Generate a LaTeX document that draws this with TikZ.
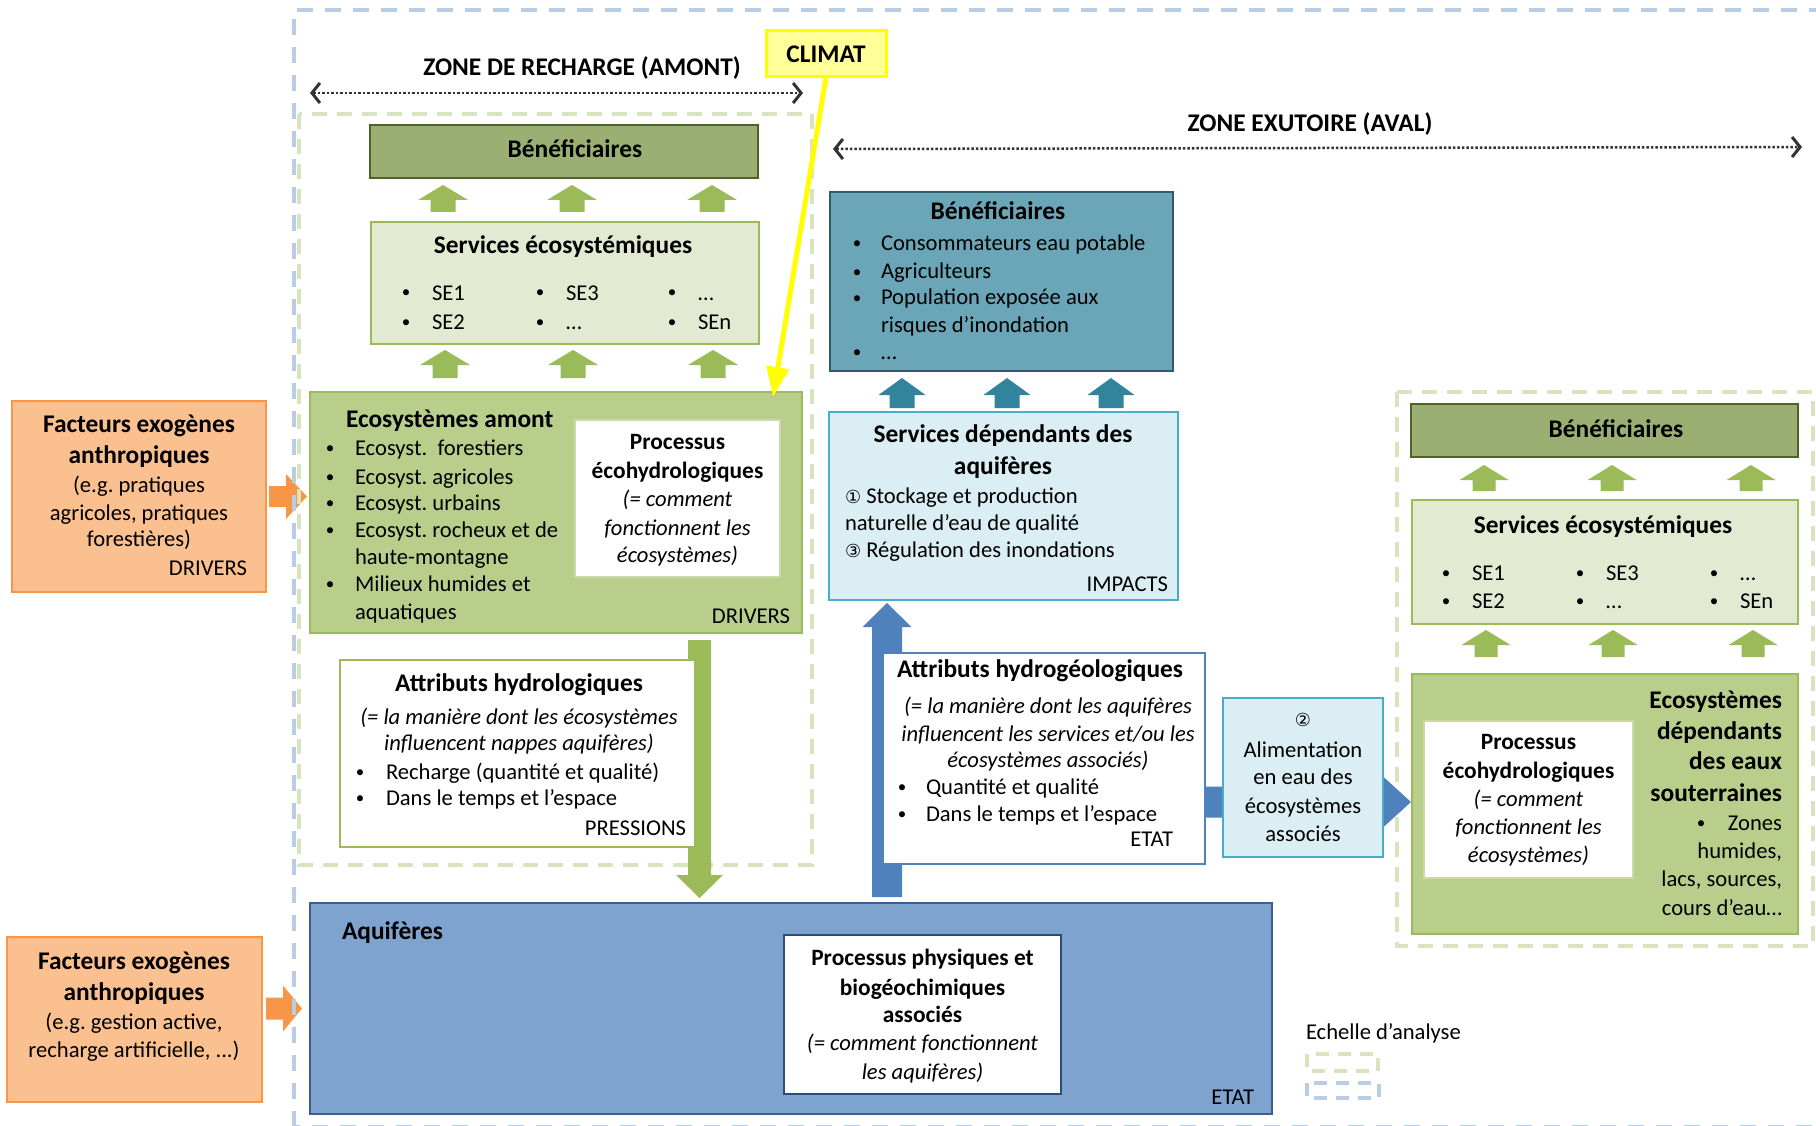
\documentclass[tikz,border=0pt]{standalone}
\usepackage{fontspec}
\setmainfont{Carlito}
\newfontfamily\symf{DejaVu Sans}
\usetikzlibrary{arrows.meta,calc}
\definecolor{cBenG}{HTML}{9CAF72}
\definecolor{cBenGd}{HTML}{4F6228}
\definecolor{cServ}{HTML}{E2EAD2}
\definecolor{cGreen}{HTML}{9BBB59}
\definecolor{cEco}{HTML}{BACE8C}
\definecolor{cEcoL}{HTML}{C9DAA6}
\definecolor{cTeal}{HTML}{6AA6B7}
\definecolor{cTealD}{HTML}{2D5D6C}
\definecolor{cTealA}{HTML}{31849B}
\definecolor{cLB}{HTML}{DBEEF3}
\definecolor{cLBd}{HTML}{4BACC6}
\definecolor{cBlue}{HTML}{4F81BD}
\definecolor{cAq}{HTML}{7FA3CF}
\definecolor{cAqD}{HTML}{3A5F8E}
\definecolor{cNavy}{HTML}{2C4D75}
\definecolor{cOr}{HTML}{F79646}
\definecolor{cOrL}{HTML}{FAC090}
\definecolor{cYel}{HTML}{FFFF00}
\definecolor{cYelL}{HTML}{FFFF99}
\definecolor{cDashB}{HTML}{B9CDE5}
\definecolor{cDashG}{HTML}{D7E4BD}
\definecolor{cDot}{HTML}{333333}

\pgfdeclarelayer{bg}
\pgfsetlayers{bg,main}

\tikzset{
  rg/.style={font=\fontsize{22.6}{27}\selectfont},
  it/.style={font=\fontsize{22.6}{27}\selectfont\itshape},
  bd/.style={font=\fontsize{25.4}{30}\selectfont\bfseries},
  bs/.style={font=\fontsize{23.4}{28}\selectfont\bfseries},
  bl/.style={font=\fontsize{17}{20}\selectfont},
  txt/.style={inner sep=0pt, outer sep=0pt, text=black},
  boxst/.style={rectangle, inner sep=0pt, outer sep=0pt, anchor=north west, line width=2.5pt},
  benG/.style={boxst, fill=cBenG, draw=cBenGd},
  servG/.style={boxst, fill=cServ, draw=cGreen},
  ecoG/.style={boxst, fill=cEco, draw=cGreen},
  procW/.style={boxst, fill=white, draw=cEcoL, line width=2pt},
  bluedash/.style={draw=cDashB, line width=3.5pt, dash pattern=on 16pt off 12pt},
  greendash/.style={draw=cDashG, line width=4pt, dash pattern=on 15pt off 10pt},
  dotarr/.style={draw=cDot, line width=2.5pt, dash pattern=on 2.5pt off 2pt,
     {Straight Barb[length=8pt,width=20pt,line width=3pt]}-{Straight Barb[length=8pt,width=20pt,line width=3pt]}},
}

\newcounter{tn}
\newcommand\TL[4][rg]{\stepcounter{tn}\node[#1,txt,anchor=base west] (t\arabic{tn}) at (#2,#3+7) {#4};}
\newcommand\TC[4][rg]{\stepcounter{tn}\node[#1,txt,anchor=base] (t\arabic{tn}) at (#2,#3+7) {#4};}
\newcommand\TR[4][rg]{\stepcounter{tn}\node[#1,txt,anchor=base east] (t\arabic{tn}) at (#2,#3+7) {#4};}
\newcommand\BU[2]{\stepcounter{tn}\node[bl,txt,anchor=base] (t\arabic{tn}) at (#1,#2+5) {•};}
\newcommand\bx[6]{\node[#2,minimum width={#5-#3},minimum height={#6-#4}] (#1) at (#3,#4) {};}
% vertical block arrow: colour, tail, tip, shaft half width, head half width, head length
\newcommand\varrow[6]{\fill[#1] let \p1=#2, \p2=#3, \n1={sign(\y2-\y1)} in
  (\x1-#4pt,\y1) -- (\x1-#4pt,\y2-\n1*#6pt) -- (\x1-#5pt,\y2-\n1*#6pt) -- (\x1,\y2)
  -- (\x1+#5pt,\y2-\n1*#6pt) -- (\x1+#4pt,\y2-\n1*#6pt) -- (\x1+#4pt,\y1) -- cycle;}
\newcommand\harrow[6]{\fill[#1] let \p1=#2, \p2=#3, \n1={sign(\x2-\x1)} in
  (\x1,\y1-#4pt) -- (\x2-\n1*#6pt,\y1-#4pt) -- (\x2-\n1*#6pt,\y1-#5pt) -- (\x2,\y1)
  -- (\x2-\n1*#6pt,\y1+#5pt) -- (\x2-\n1*#6pt,\y1+#4pt) -- (\x1,\y1+#4pt) -- cycle;}
\newcommand\upar[9]{\varrow{#1}{($(#2.north west)+(#4,-#5)$)}{($(#2.north west |- #3.south)+(#4,#6)$)}{#7}{#8}{#9}}
\newcommand\bul[3]{\BU{#1}{#2}\TL{#1+26}{#2}{#3}}

\begin{document}
\frenchspacing
\begin{tikzpicture}[x=1pt,y=-1pt]
\useasboundingbox (0,0) rectangle (1816,1126);

% ---------------- boxes ----------------
\node[boxst, fill=cYelL, draw=cYel, line width=3pt, minimum width=120, minimum height=46, anchor=center, bd] (climat) at (826,54) {CLIMAT};
\bx{benL}{benG}{370}{125}{758}{178}
\bx{servL}{servG}{371}{222}{759}{344}
\bx{ecoA}{ecoG}{310}{392}{802}{633}
\bx{procL}{procW}{575}{420}{780}{577}
\bx{hydro}{boxst, fill=white, draw=cGreen}{340}{660}{695}{847}
\bx{benT}{boxst, fill=cTeal, draw=cTealD}{830}{192}{1173}{371}
\bx{servD}{boxst, fill=cLB, draw=cLBd}{829}{412}{1178}{600}
\bx{geo}{boxst, fill=white, draw=cBlue, line width=2pt}{883}{653}{1205}{864}
\bx{alim}{boxst, fill=cLB, draw=cLBd}{1223}{698}{1383}{857}
\bx{benR}{benG}{1411}{404}{1798}{457}
\bx{servR}{servG}{1412}{500}{1798}{624}
\bx{ecoD}{ecoG}{1412}{674}{1798}{934}
\bx{procR}{procW}{1424}{721}{1633}{878}
\bx{aquif}{boxst, fill=cAq, draw=cAqD}{310}{903}{1272}{1114}
\bx{procA}{boxst, fill=white, draw=cNavy, line width=2pt}{784}{935}{1061}{1094}
\bx{fact1}{boxst, fill=cOrL, draw=cOr}{12}{401}{266}{592}
\bx{fact2}{boxst, fill=cOrL, draw=cOr}{7}{937}{262}{1102}

% ---------------- background: zones and big arrows ----------------
\begin{pgfonlayer}{bg}
\harrow{cOr}{($(fact1.east)+(3,0)$)}{($(ecoA.west |- fact1.east)+(-3,0)$)}{10.5}{22.5}{21}
\harrow{cOr}{($(fact2.east |- aquif.west)+(4,0)$)}{($(aquif.west)+(-8,0)$)}{11}{23}{19}
\draw[bluedash] (294,1127) rectangle (1840,10);
\draw[greendash] (299,114) rectangle (812,865);
\draw[greendash] (1397,392) rectangle (1813,946);
\varrow{cGreen}{($(hydro.east |- ecoA.south)+(4.5,7)$)}{($(hydro.east |- aquif.north)+(4.5,-5)$)}{11.5}{23.5}{23}
\varrow{cBlue}{($(geo.west |- aquif.north)+(4,-6)$)}{($(geo.west |- servD.south)+(4,3)$)}{15}{24.5}{24}
\harrow{cBlue}{($(geo.east |- ecoD.west)+(-5,-2)$)}{($(ecoD.west)+(-1,-2)$)}{15.5}{25.5}{28}
\end{pgfonlayer}

% ---------------- small block arrows ----------------
\upar{cGreen}{servL}{benL}{72}{10}{7}{12.5}{25}{15}
\upar{cGreen}{servL}{benL}{201}{10}{7}{12.5}{25}{15}
\upar{cGreen}{servL}{benL}{341}{10}{7}{12.5}{25}{15}
\upar{cGreen}{ecoA}{servL}{135}{14}{6}{12.5}{25}{15}
\upar{cGreen}{ecoA}{servL}{263}{14}{6}{12.5}{25}{15}
\upar{cGreen}{ecoA}{servL}{403}{14}{6}{12.5}{25}{15}
\upar{cTealA}{servD}{benT}{73}{4}{7}{12.5}{23.5}{17}
\upar{cTealA}{servD}{benT}{178}{4}{7}{12.5}{23.5}{17}
\upar{cTealA}{servD}{benT}{282}{4}{7}{12.5}{23.5}{17}
\upar{cGreen}{servR}{benR}{72}{9}{8}{11.5}{24.5}{15}
\upar{cGreen}{servR}{benR}{200}{9}{8}{11.5}{24.5}{15}
\upar{cGreen}{servR}{benR}{339}{9}{8}{11.5}{24.5}{15}
\upar{cGreen}{ecoD}{servR}{74}{17}{6}{11.5}{24.5}{15}
\upar{cGreen}{ecoD}{servR}{201}{17}{6}{11.5}{24.5}{15}
\upar{cGreen}{ecoD}{servR}{341}{17}{6}{11.5}{24.5}{15}

% ---------------- zone arrows ----------------
\coordinate (zr1) at (310,93);
\coordinate (zr2) at (803,93);
\coordinate (zx1) at (833,149);
\coordinate (zx2) at (1802,147);
\draw[dotarr] (zr1) -- (zr2);
\draw[dotarr] (zx1) -- (zx2);
\TC[bd]{582}{69}{ZONE DE RECHARGE (AMONT)}
\TC[bd]{1310}{125}{ZONE EXUTOIRE (AVAL)}

% climat arrow
\draw[cYel, line width=5pt, -{Triangle[length=30pt,width=22pt]}] (climat.south) -- ($(ecoA.north east)+(-29,5)$);

% ---------------- texts: left zone ----------------
\TC[bd]{575}{151}{Bénéficiaires}
\TC[bd]{563}{247}{Services écosystémiques}
\bul{406}{293}{SE1}\bul{540}{293}{SE3}\bul{672}{293}{…}
\bul{406}{322}{SE2}\bul{540}{322}{…}\bul{672}{322}{SEn}

\TL[bd]{346}{420}{Ecosystèmes amont}
\BU{330}{448}\TL{355}{448}{Ecosyst.\ \ forestiers}
\BU{330}{477}\TL{355}{477}{Ecosyst. agricoles}
\BU{330}{503}\TL{355}{503}{Ecosyst. urbains}
\BU{330}{530}\TL{355}{530}{Ecosyst. rocheux et de}
\TL{355}{557}{haute-montagne}
\BU{330}{584}\TL{355}{584}{Milieux humides et}
\TL{355}{612}{aquatiques}
\TR{790}{616}{DRIVERS}
\TC[bs]{677.5}{442}{Processus}
\TC[bs]{677.5}{471}{écohydrologiques}
\TC[it]{677.5}{499}{(= comment}
\TC[it]{677.5}{528}{fonctionnent les}
\TC[it]{677.5}{555}{écosystèmes)}

\TC[bd]{519}{684}{Attributs hydrologiques}
\TC[it]{519}{717}{(= la manière dont les écosystèmes}
\TC[it]{519}{743}{influencent nappes aquifères)}
\BU{360}{772}\TL{386}{772}{Recharge (quantité et qualité)}
\BU{360}{798}\TL{386}{798}{Dans le temps et l’espace}
\TR{686}{828}{PRESSIONS}

% ---------------- texts: centre ----------------
\TC[bd]{998}{213}{Bénéficiaires}
\BU{857}{244}\TL{881}{244}{Consommateurs eau potable}
\BU{857}{272}\TL{881}{272}{Agriculteurs}
\BU{857}{298}\TL{881}{298}{Population exposée aux}
\TL{881}{325}{risques d’inondation}
\BU{857}{352}\TL{881}{352}{…}

\TC[bd]{1003}{435}{Services dépendants des}
\TC[bd]{1003}{467}{aquifères}
\TL{845}{496}{{\symf\fontsize{18}{20}\selectfont ①} Stockage et production}
\TL{845}{523}{naturelle d’eau de qualité}
\TL{845}{550}{{\symf\fontsize{18}{20}\selectfont ③} Régulation des inondations}
\TR{1168}{584}{IMPACTS}

\TC[bd]{1040}{670}{Attributs hydrogéologiques}
\TC[it]{1048}{706}{(= la manière dont les aquifères}
\TC[it]{1048}{734}{influencent les services et/ou les}
\TC[it]{1048}{760}{écosystèmes associés)}
\BU{902}{787}\TL{926}{787}{Quantité et qualité}
\BU{902}{814}\TL{926}{814}{Dans le temps et l’espace}
\TR{1173}{839}{ETAT}

\TC{1303}{719}{{\symf\fontsize{18}{20}\selectfont ②}}
\TC{1303}{750}{Alimentation}
\TC{1303}{777}{en eau des}
\TC{1303}{806}{écosystèmes}
\TC{1303}{834}{associés}

% ---------------- texts: right zone ----------------
\TC[bd]{1616}{430}{Bénéficiaires}
\TC[bd]{1603}{526}{Services écosystémiques}
\bul{1446}{573}{SE1}\bul{1580}{573}{SE3}\bul{1714}{573}{…}
\bul{1446}{601}{SE2}\bul{1580}{601}{…}\bul{1714}{601}{SEn}

\TR[bd]{1782}{701}{Ecosystèmes}
\TR[bd]{1782}{732}{dépendants}
\TR[bd]{1782}{762}{des eaux}
\TR[bd]{1782}{794}{souterraines}
\BU{1701}{823}\TR{1782}{823}{Zones}
\TR{1782}{851}{humides,}
\TR{1782}{879}{lacs, sources,}
\TR{1782}{908}{cours d’eau…}
\TC[bs]{1528.5}{742}{Processus}
\TC[bs]{1528.5}{771}{écohydrologiques}
\TC[it]{1528.5}{799}{(= comment}
\TC[it]{1528.5}{827}{fonctionnent les}
\TC[it]{1528.5}{855}{écosystèmes)}

% ---------------- aquifers ----------------
\TL[bd]{342}{932}{Aquifères}
\TC[bs]{922.5}{958}{Processus physiques et}
\TC[bs]{922.5}{988}{biogéochimiques}
\TC[bs]{922.5}{1015}{associés}
\TC[it]{922.5}{1043}{(= comment fonctionnent}
\TC[it]{922.5}{1072}{les aquifères)}
\TR{1254}{1097}{ETAT}

% ---------------- drivers ----------------
\TC[bd]{139}{425}{Facteurs exogènes}
\TC[bd]{139}{456}{anthropiques}
\TC{139}{485}{(e.g. pratiques}
\TC{139}{513}{agricoles, pratiques}
\TC{139}{539}{forestières)}
\TR{247}{568}{DRIVERS}
\TC[bd]{134}{962}{Facteurs exogènes}
\TC[bd]{134}{993}{anthropiques}
\TC{134}{1022}{(e.g. gestion active,}
\TC{134}{1050}{recharge artificielle, ...)}

% ---------------- legend ----------------
\TL{1306}{1032}{Echelle d’analyse}
\draw[draw=cDashG, line width=4pt, dash pattern=on 13pt off 9pt] (1307,1054) rectangle (1378,1071);
\draw[draw=cDashB, line width=4pt, dash pattern=on 13pt off 9pt] (1307,1083) rectangle (1379,1098);
\end{tikzpicture}
\end{document}
